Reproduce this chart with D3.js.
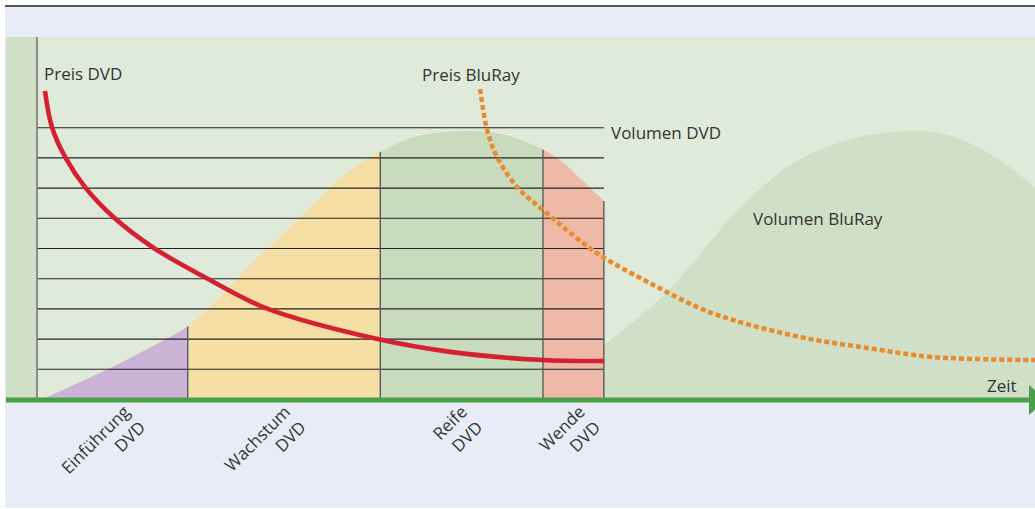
<!DOCTYPE html>
<html>
<head>
<meta charset="utf-8">
<script src="https://cdn.jsdelivr.net/npm/d3@7"></script>
<style>
  html, body { margin: 0; padding: 0; background: #fff; }
  svg { display: block; }
  text { font-family: "Open Sans", "Noto Sans", sans-serif; fill: #333; }
</style>
</head>
<body>
<svg id="chart" width="1035" height="509"></svg>
<script>
// ---- data ----
const phaseNames = ["Einführung", "Wachstum", "Reife", "Wende"];
const phaseSub = ["DVD", "DVD", "DVD", "DVD"];
const phaseBounds = [0, 15.1, 34.4, 50.7, 56.8];
const phaseLabelTime = [9.4, 25.5, 43.2, 55.0];
const gridValues = [1, 2, 3, 4, 5, 6, 7, 8, 9];

const dvdVolTime = [0.6, 7.18, 13.0, 15.1, 18.0, 21.6, 26.4, 31.4, 34.4, 38.1, 44.1, 47.4, 50.7, 52.8, 54.6, 56.8];
const dvdVolValue = [0, 1.0, 2.0, 2.4, 3.28, 4.50, 6.03, 7.58, 8.18, 8.70, 8.87, 8.70, 8.25, 7.81, 7.25, 6.56];

const bluVolTime = [56.8, 59.4, 63.1, 66.4, 69.7, 73.1, 76.5, 81.5, 86.5, 90.0, 93.2, 96.5, 100];
const bluVolValue = [1.79, 2.45, 3.54, 4.77, 6.09, 7.15, 7.95, 8.60, 8.87, 8.84, 8.51, 7.91, 7.0];

const dvdPriceTime = [0.8, 1.5, 2.84, 4.85, 7.74, 11.7, 17.0, 23.0, 33.9, 41.4, 50.7, 56.8];
const dvdPriceValue = [10.2, 9.0, 8.0, 7.0, 6.0, 5.0, 4.0, 3.0, 2.0, 1.56, 1.29, 1.26];

const bluPriceTime = [44.4, 45.1, 46.1, 48.1, 50.7, 54.7, 56.7, 61.4, 66.4, 69.7, 76.5, 83.2, 89.8, 100];
const bluPriceValue = [10.26, 8.91, 8.01, 7.02, 6.26, 5.17, 4.70, 3.84, 3.01, 2.62, 2.05, 1.69, 1.39, 1.29];

// ---- styles ----
const phaseColors = ["#cbb3d6", "#f5dfa5", "#c8dbbd", "#efb9a8"];

const svg = d3.select("#chart");
const x = d3.scaleLinear().domain([0, 100]).range([37, 1035]);
const y = d3.scaleLinear().domain([0, 9]).range([399, 127.2]);
const smooth = d3.curveCatmullRom.alpha(0.5);

const zip = (ts, vs) => ts.map((t, i) => ({ t, v: vs[i] }));
const dvdVol = zip(dvdVolTime, dvdVolValue);
const bluVol = zip(bluVolTime, bluVolValue);
const dvdPrice = zip(dvdPriceTime, dvdPriceValue);
const bluPrice = zip(bluPriceTime, bluPriceValue);

// backgrounds
svg.append("rect").attr("x", 5).attr("y", 7).attr("width", 1030).attr("height", 501).attr("fill", "#e8ecf7");
svg.append("line").attr("x1", 5).attr("x2", 1035).attr("y1", 6).attr("y2", 6).attr("stroke", "#555").attr("stroke-width", 2);
svg.append("rect").attr("x", 6).attr("y", 37).attr("width", 1029).attr("height", y(0) - 37).attr("fill", "#dfeadb");
svg.append("rect").attr("x", 6).attr("y", 37).attr("width", x(0) - 6).attr("height", y(0) - 37).attr("fill", "#d0e0c7");

// BluRay volume area
const area = d3.area().x(d => x(d.t)).y0(y(0)).y1(d => y(d.v)).curve(smooth);
svg.append("path").datum(bluVol).attr("d", area).attr("fill", "#d0e0c6");

// DVD volume area, split by phase
const defs = svg.append("defs");
phaseNames.forEach((p, i) => {
  defs.append("clipPath").attr("id", "ph" + i)
    .append("rect")
    .attr("x", x(phaseBounds[i])).attr("y", 0)
    .attr("width", x(phaseBounds[i + 1]) - x(phaseBounds[i]))
    .attr("height", y(0));
  svg.append("path").datum(dvdVol).attr("d", area)
    .attr("fill", phaseColors[i]).attr("clip-path", "url(#ph" + i + ")");
});

// grid lines via axis
const gridAxis = d3.axisLeft(y).tickValues(gridValues)
  .tickSize(-(x(phaseBounds[4]) - x(0))).tickFormat("");
const g = svg.append("g").attr("transform", `translate(${x(0)},0)`).call(gridAxis);
g.select(".domain").remove();
g.selectAll(".tick line").attr("stroke", "#222").attr("stroke-width", 1.1);

// phase boundary lines
phaseBounds.slice(1).forEach(b => {
  const d = dvdVol.find(p => Math.abs(p.t - b) < 1e-9);
  svg.append("line").attr("x1", x(b)).attr("x2", x(b))
    .attr("y1", y(d.v)).attr("y2", y(0))
    .attr("stroke", "#5a5a5a").attr("stroke-width", 1.4);
});

// vertical axis
svg.append("line").attr("x1", x(0)).attr("x2", x(0)).attr("y1", 37).attr("y2", y(0))
  .attr("stroke", "#777").attr("stroke-width", 1.6);

// price lines
const line = d3.line().x(d => x(d.t)).y(d => y(d.v)).curve(smooth);
svg.append("path").datum(dvdPrice).attr("d", line)
  .attr("fill", "none").attr("stroke", "#d42030").attr("stroke-width", 4.6);
svg.append("path").datum(bluPrice).attr("d", line)
  .attr("fill", "none").attr("stroke", "#e98a2b").attr("stroke-width", 4.5)
  .attr("stroke-dasharray", "5,3");

// time axis with arrow
svg.append("line").attr("x1", 6).attr("x2", 1030).attr("y1", y(0) + 1).attr("y2", y(0) + 1)
  .attr("stroke", "#4aa04a").attr("stroke-width", 5);
svg.append("path")
  .attr("d", `M1029,${y(0) + 1 - 15} L1046,${y(0) + 1} L1029,${y(0) + 1 + 15} Z`)
  .attr("fill", "#4aa04a");

// labels
const lab = (txt, tx, ty) => svg.append("text").attr("x", tx).attr("y", ty)
  .attr("font-size", 17).text(txt);
lab("Preis DVD", 44, 80);
lab("Preis BluRay", 422, 81);
lab("Volumen DVD", 611, 139);
lab("Volumen BluRay", 753, 225);
lab("Zeit", 987, 392);

// phase labels
phaseNames.forEach((p, i) => {
  const gl = svg.append("g")
    .attr("transform", `translate(${x(phaseLabelTime[i])},413) rotate(-45)`);
  gl.append("text").attr("text-anchor", "end").attr("font-size", 17).attr("x", 0).attr("y", 0).text(p);
  gl.append("text").attr("text-anchor", "end").attr("font-size", 17).attr("x", 0).attr("y", 22).text(phaseSub[i]);
});
</script>
</body>
</html>
